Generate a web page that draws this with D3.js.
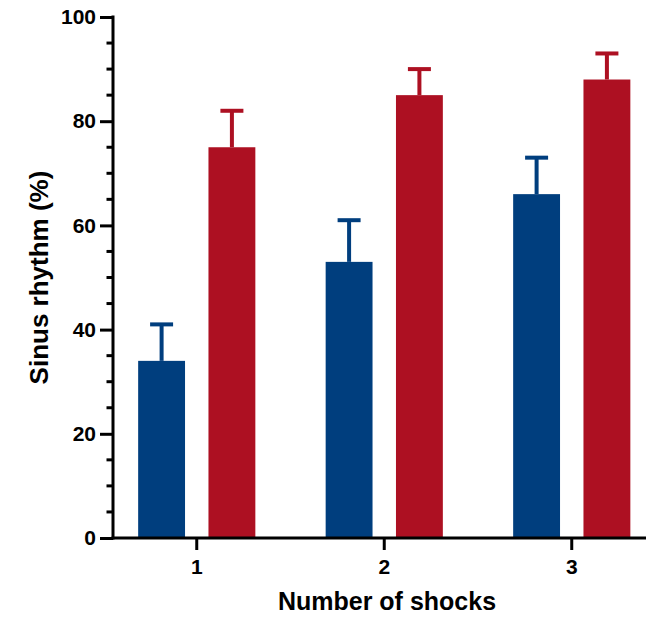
<!DOCTYPE html>
<html>
<head>
<meta charset="utf-8">
<script src="https://cdn.jsdelivr.net/npm/d3@7"></script>
<style>
  html, body { margin: 0; padding: 0; background: #fff; }
  svg { display: block; }
  text { font-family: "Liberation Sans", Arial, sans-serif; font-weight: bold; fill: #000; }
</style>
</head>
<body>
<svg id="chart" width="649" height="624"></svg>
<script>
const categories = ["1", "2", "3"];
const seriesNames = ["A", "B"];
const blueValues = [34, 53, 66];
const blueErrors = [41, 61, 73];
const redValues = [75, 85, 88];
const redErrors = [82, 90, 93];
const yTicks = [0, 20, 40, 60, 80, 100];
const xTitle = "Number of shocks";
const yTitle = "Sinus rhythm (%)";

const colors = { A: "#003e7e", B: "#ad1022" };
const data = categories.map((c, i) => ({
  cat: c,
  vals: [
    { s: "A", v: blueValues[i], e: blueErrors[i] },
    { s: "B", v: redValues[i], e: redErrors[i] }
  ]
}));

const svg = d3.select("#chart");
const axisX0 = 113, axisX1 = 646;

const x = d3.scaleBand().domain(categories).range([103, 665.5]).paddingInner(0).paddingOuter(0);
const xs = d3.scaleBand().domain(seriesNames).range([0, x.bandwidth()]).paddingInner(1/3).paddingOuter(0.5);
const y = d3.scaleLinear().domain([0, 100]).range([538, 17]);

// bars
const g = svg.append("g");
const groups = g.selectAll("g.grp").data(data).join("g")
  .attr("transform", d => `translate(${x(d.cat)},0)`);

groups.selectAll("rect").data(d => d.vals).join("rect")
  .attr("x", d => xs(d.s))
  .attr("width", xs.bandwidth())
  .attr("y", d => y(d.v))
  .attr("height", d => y(0) - y(d.v))
  .attr("fill", d => colors[d.s]);

// error bars
const capW = 23;
groups.selectAll("line.stem").data(d => d.vals).join("line")
  .attr("class", "stem")
  .attr("x1", d => xs(d.s) + xs.bandwidth() / 2)
  .attr("x2", d => xs(d.s) + xs.bandwidth() / 2)
  .attr("y1", d => y(d.v))
  .attr("y2", d => y(d.e))
  .attr("stroke", d => colors[d.s])
  .attr("stroke-width", 4);
groups.selectAll("line.cap").data(d => d.vals).join("line")
  .attr("class", "cap")
  .attr("x1", d => xs(d.s) + xs.bandwidth() / 2 - capW / 2)
  .attr("x2", d => xs(d.s) + xs.bandwidth() / 2 + capW / 2)
  .attr("y1", d => y(d.e))
  .attr("y2", d => y(d.e))
  .attr("stroke", d => colors[d.s])
  .attr("stroke-width", 4);

// y axis
const yAxisG = svg.append("g").attr("transform", `translate(${axisX0},0)`);
const minor = d3.range(0, 101, 5).filter(v => v % 20 !== 0);
yAxisG.selectAll("line.minor").data(minor).join("line")
  .attr("class", "minor")
  .attr("x1", -6.5).attr("x2", 0)
  .attr("y1", d => y(d)).attr("y2", d => y(d))
  .attr("stroke", "#000").attr("stroke-width", 3);
const yAxis = d3.axisLeft(y).tickValues(yTicks).tickSize(13).tickSizeOuter(0).tickPadding(4);
yAxisG.call(yAxis);
yAxisG.select(".domain").remove();
yAxisG.selectAll(".tick line").attr("stroke", "#000").attr("stroke-width", 3);
yAxisG.selectAll(".tick text").style("font-size", "21px").style("font-family", "Liberation Sans, Arial, sans-serif").style("font-weight", "bold");
yAxisG.append("line").attr("x1", 0).attr("x2", 0).attr("y1", y(100) - 1.5).attr("y2", y(0) + 1.5)
  .attr("stroke", "#000").attr("stroke-width", 3);

// x axis
const xAxisG = svg.append("g").attr("transform", `translate(0,${y(0)})`);
const xAxis = d3.axisBottom(x).tickSize(12).tickSizeOuter(0).tickPadding(9);
xAxisG.call(xAxis);
xAxisG.select(".domain").remove();
xAxisG.selectAll(".tick line").attr("stroke", "#000").attr("stroke-width", 3);
xAxisG.selectAll(".tick text").style("font-size", "21px").style("font-family", "Liberation Sans, Arial, sans-serif").style("font-weight", "bold");
xAxisG.append("line").attr("x1", axisX0 - 1.5).attr("x2", axisX1).attr("y1", 0).attr("y2", 0)
  .attr("stroke", "#000").attr("stroke-width", 3);

// titles
svg.append("text")
  .attr("x", 387)
  .attr("y", 610)
  .attr("text-anchor", "middle")
  .style("font-size", "25px")
  .text(xTitle);

svg.append("text")
  .attr("transform", `translate(48,${(y(0) + y(100)) / 2}) rotate(-90)`)
  .attr("text-anchor", "middle")
  .style("font-size", "26px")
  .text(yTitle);
</script>
</body>
</html>
